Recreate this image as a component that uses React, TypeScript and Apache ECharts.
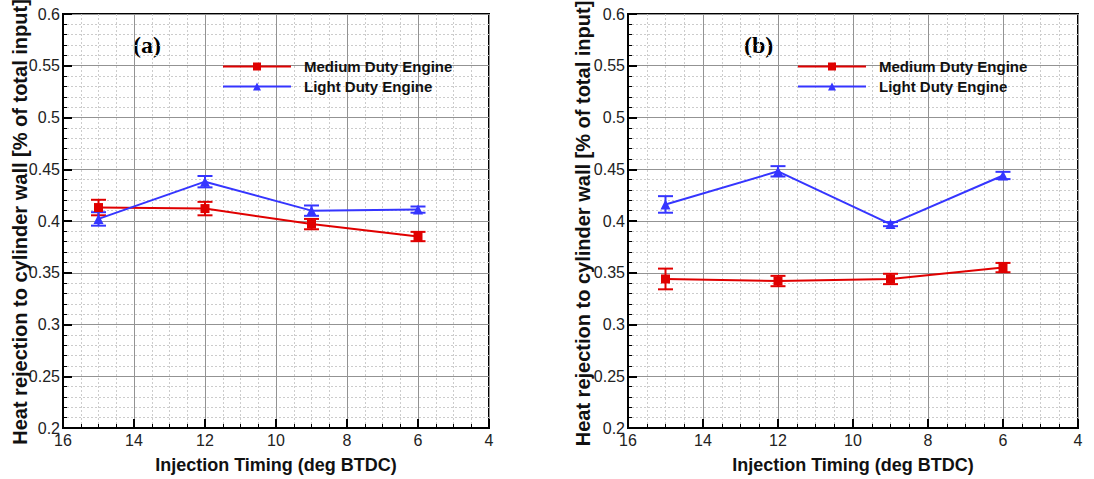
import React, { useEffect, useRef } from "react";
import * as echarts from "echarts";

const timings = [15, 12, 9, 6];
const xTicks = [16, 14, 12, 10, 8, 6, 4];
const yTicks = [0.2, 0.25, 0.3, 0.35, 0.4, 0.45, 0.5, 0.55, 0.6];

const seriesNames = ["Medium Duty Engine", "Light Duty Engine"];
const yTitle = "Heat rejection to cylinder wall [% of total input]";
const xTitle = "Injection Timing (deg BTDC)";

const aMedium = [0.413, 0.412, 0.397, 0.385];
const aMediumErr = [0.0075, 0.0065, 0.005, 0.0045];
const aLight = [0.402, 0.438, 0.41, 0.411];
const aLightErr = [0.0065, 0.0055, 0.005, 0.003];

const bMedium = [0.344, 0.342, 0.344, 0.355];
const bMediumErr = [0.01, 0.005, 0.005, 0.0045];
const bLight = [0.416, 0.448, 0.397, 0.444];
const bLightErr = [0.008, 0.005, 0.002, 0.0035];

const RED = "#e00000";
const BLUE = "#3535ff";
const FONT = "Liberation Sans, Arial, sans-serif";

function errSeries(vals: number[], errs: number[], color: string) {
  return {
    type: "custom",
    silent: true,
    z: 3,
    data: timings.map((t, i) => [t, vals[i] - errs[i], vals[i] + errs[i]]),
    encode: { x: 0, y: [1, 2] },
    renderItem: (params: any, api: any) => {
      const x = api.value(0);
      const lo = api.coord([x, api.value(1)]);
      const hi = api.coord([x, api.value(2)]);
      const w = 7.5;
      const st = { stroke: color, lineWidth: 2 };
      return {
        type: "group",
        children: [
          { type: "line", shape: { x1: lo[0], y1: lo[1], x2: hi[0], y2: hi[1] }, style: st },
          { type: "line", shape: { x1: lo[0] - w, y1: lo[1], x2: lo[0] + w, y2: lo[1] }, style: st },
          { type: "line", shape: { x1: hi[0] - w, y1: hi[1], x2: hi[0] + w, y2: hi[1] }, style: st },
        ],
      };
    },
  };
}

function buildOption(
  tag: string,
  med: number[],
  medErr: number[],
  light: number[],
  lightErr: number[],
  g: { left: number; top: number; width: number; height: number },
  legendLeft: number,
  tagLeft: number,
  yTitleX: number
) {
  return {
    animation: false,
    grid: {
      left: g.left,
      top: g.top,
      width: g.width,
      height: g.height,
      show: true,
      borderColor: "#000",
      borderWidth: 2,
      backgroundColor: "transparent",
    },
    legend: {
      left: legendLeft,
      top: 59,
      padding: 0,
      orient: "vertical",
      itemGap: 5,
      itemWidth: 68,
      itemHeight: 10,
      data: seriesNames,
      textStyle: { fontFamily: FONT, fontWeight: "bold", fontSize: 15, color: "#111", padding: [0, 0, 0, 8] },
    },
    graphic: [
      {
        type: "text",
        left: tagLeft,
        top: 33,
        style: {
          text: tag,
          font: "bold 24px 'Liberation Serif', 'Times New Roman', serif",
          fill: "#000",
        },
      },
      {
        type: "text",
        x: yTitleX,
        y: g.top + g.height / 2,
        rotation: Math.PI / 2,
        style: {
          text: yTitle,
          font: "bold 20px 'Liberation Sans', Arial, sans-serif",
          fill: "#111",
          align: "center",
          verticalAlign: "middle",
        },
      },
    ],
    xAxis: {
      type: "value",
      min: 4,
      max: 16,
      interval: 2,
      inverse: true,
      name: xTitle,
      nameLocation: "middle",
      nameGap: 28,
      nameTextStyle: { fontFamily: FONT, fontWeight: "bold", fontSize: 18, color: "#111" },
      axisLine: { show: true, onZero: false, lineStyle: { color: "#000", width: 2 } },
      axisTick: { show: true, inside: true, length: 9, lineStyle: { color: "#000", width: 2 } },
      minorTick: { show: true, splitNumber: 4, length: 4, lineStyle: { color: "#000", width: 1 } },
      axisLabel: {
        fontFamily: FONT,
        fontSize: 16,
        color: "#222",
        margin: 4,
        formatter: (v: number) => (xTicks.includes(v) ? String(v) : ""),
      },
      splitLine: { show: true, lineStyle: { color: "#939393", width: 1 } },
      minorSplitLine: { show: true, lineStyle: { color: "#cccccc", width: 1, type: [2, 2] } },
    },
    yAxis: {
      type: "value",
      min: 0.2,
      max: 0.6,
      interval: 0.05,
      axisLine: { show: true, onZero: false, lineStyle: { color: "#000", width: 2 } },
      axisTick: { show: true, inside: true, length: 9, lineStyle: { color: "#000", width: 2 } },
      minorTick: { show: true, splitNumber: 5, length: 4, lineStyle: { color: "#000", width: 1 } },
      axisLabel: {
        fontFamily: FONT,
        fontSize: 16,
        color: "#222",
        margin: 3,
        formatter: (v: number) => {
          const m = yTicks.find((t) => Math.abs(t - v) < 1e-9);
          return m === undefined ? "" : String(m);
        },
      },
      splitLine: { show: true, lineStyle: { color: "#939393", width: 1 } },
      minorSplitLine: { show: true, lineStyle: { color: "#cccccc", width: 1, type: [2, 2] } },
    },
    series: [
      errSeries(med, medErr, RED),
      errSeries(light, lightErr, BLUE),
      {
        name: seriesNames[0],
        type: "line",
        z: 4,
        data: timings.map((t, i) => [t, med[i]]),
        symbol: "rect",
        symbolSize: 9,
        itemStyle: { color: RED },
        lineStyle: { color: RED, width: 2 },
      },
      {
        name: seriesNames[1],
        type: "line",
        z: 4,
        data: timings.map((t, i) => [t, light[i]]),
        symbol: "triangle",
        symbolSize: 10,
        itemStyle: { color: BLUE },
        lineStyle: { color: BLUE, width: 2 },
      },
    ],
  };
}

function Panel(props: { width: number; height: number; option: any; left: number }) {
  const ref = useRef<HTMLDivElement>(null);
  useEffect(() => {
    if (!ref.current) return;
    const chart = echarts.init(ref.current, undefined, { renderer: "svg" });
    chart.setOption(props.option);
    return () => chart.dispose();
  }, []);
  return (
    <div
      ref={ref}
      style={{ position: "absolute", left: props.left, top: 0, width: props.width, height: props.height }}
    />
  );
}

export default function App() {
  useEffect(() => {
    document.body.style.margin = "0";
    document.body.style.background = "#fff";
  }, []);
  const optA = buildOption(
    "(a)",
    aMedium,
    aMediumErr,
    aLight,
    aLightErr,
    { left: 63, top: 14, width: 426, height: 416 },
    222,
    133,
    20
  );
  const optB = buildOption(
    "(b)",
    bMedium,
    bMediumErr,
    bLight,
    bLightErr,
    { left: 68, top: 14, width: 450, height: 419 },
    237,
    184,
    23
  );
  return (
    <div style={{ position: "fixed", left: 0, top: 0, width: 1094, height: 479, background: "#fff" }}>
      <Panel left={0} width={560} height={479} option={optA} />
      <Panel left={560} width={534} height={479} option={optB} />
    </div>
  );
}
